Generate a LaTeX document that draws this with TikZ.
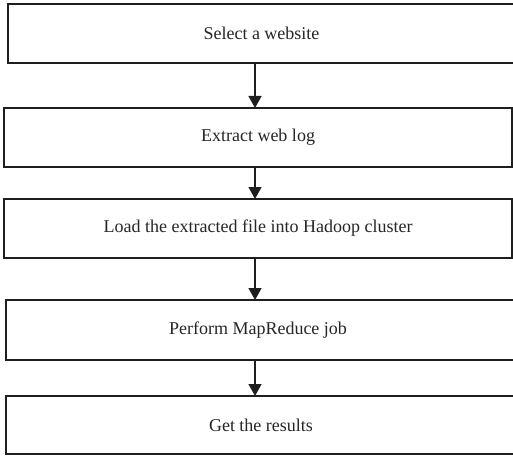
\documentclass[tikz,border=0pt]{standalone}
\usepackage{fontspec}
\setmainfont{Liberation Serif}
\usetikzlibrary{arrows.meta}
\begin{document}
\begin{tikzpicture}[x=1pt,y=-1pt,
  stepbox/.style={draw=black!88,line width=1.4pt,rectangle,inner sep=0pt,outer sep=0pt,
    font=\fontsize{18}{20}\selectfont,text=black!85},
  arr/.style={draw=black!88,line width=1.4pt,-{Triangle[length=12pt,width=13pt]}}]
\useasboundingbox (0,0) rectangle (513,457);
\clip (0,0) rectangle (513,457);
\fill[white] (0,0) rectangle (513,457);
\coordinate (ax) at (255,0);
\node[stepbox,minimum width=592pt,minimum height=59pt] (b1) at (304,33.5) {\hspace*{-85pt}Select a website};
\node[stepbox,minimum width=508pt,minimum height=59pt] (b2) at (258,137.5) {Extract web log};
\node[stepbox,minimum width=508pt,minimum height=59pt] (b3) at (258,228.5) {Load the extracted file into Hadoop cluster};
\node[stepbox,minimum width=594pt,minimum height=60pt] (b4) at (303,330) {\hspace*{-90pt}Perform MapReduce job};
\node[stepbox,minimum width=594pt,minimum height=58pt] (b5) at (303,425) {\hspace*{-84pt}Get the results};
\draw[arr] (b1.south -| ax) -- (b2.north -| ax);
\draw[arr] (b2.south -| ax) -- (b3.north -| ax);
\draw[arr] (b3.south -| ax) -- (b4.north -| ax);
\draw[arr] (b4.south -| ax) -- (b5.north -| ax);
\end{tikzpicture}
\end{document}
